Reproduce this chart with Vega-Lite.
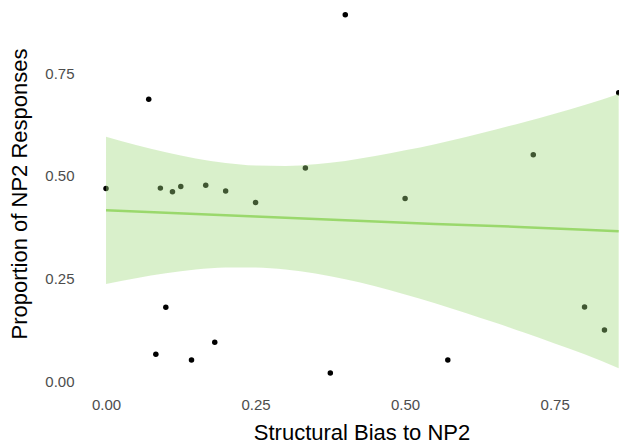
{
  "$schema": "https://vega.github.io/schema/vega-lite/v6.json",
  "width": 539,
  "height": 391,
  "autosize": {"type": "none"},
  "padding": {"left": 80, "top": 0, "right": 0, "bottom": 53},
  "background": "white",
  "config": {
    "view": {"stroke": null},
    "font": "Liberation Sans",
    "axis": {
      "grid": false,
      "domain": false,
      "ticks": false,
      "tickSize": 0,
      "labelFont": "Liberation Sans",
      "labelFontSize": 15,
      "labelColor": "#4d4d4d",
      "titleFont": "Liberation Sans",
      "titleFontSize": 22,
      "titleFontWeight": "normal",
      "titleColor": "black"
    }
  },
  "datasets": {
    "points": [
      {"bias": 0, "proportion": 0.469},
      {"bias": 0.0714, "proportion": 0.686},
      {"bias": 0.0833, "proportion": 0.066},
      {"bias": 0.0909, "proportion": 0.47},
      {"bias": 0.1, "proportion": 0.18},
      {"bias": 0.1111, "proportion": 0.461},
      {"bias": 0.125, "proportion": 0.474},
      {"bias": 0.1429, "proportion": 0.052},
      {"bias": 0.1667, "proportion": 0.477},
      {"bias": 0.1818, "proportion": 0.095},
      {"bias": 0.2, "proportion": 0.463},
      {"bias": 0.25, "proportion": 0.435},
      {"bias": 0.3333, "proportion": 0.519},
      {"bias": 0.375, "proportion": 0.02},
      {"bias": 0.4, "proportion": 0.892},
      {"bias": 0.5, "proportion": 0.445},
      {"bias": 0.5714, "proportion": 0.052},
      {"bias": 0.7143, "proportion": 0.551},
      {"bias": 0.8, "proportion": 0.181},
      {"bias": 0.8333, "proportion": 0.125},
      {"bias": 0.8571, "proportion": 0.702}
    ],
    "fit": [
      {"bias": 0, "fit": 0.416, "lo": 0.237, "hi": 0.595},
      {"bias": 0.05, "fit": 0.413, "lo": 0.251, "hi": 0.575},
      {"bias": 0.1, "fit": 0.41, "lo": 0.263, "hi": 0.557},
      {"bias": 0.15, "fit": 0.407, "lo": 0.272, "hi": 0.542},
      {"bias": 0.2, "fit": 0.404, "lo": 0.277, "hi": 0.531},
      {"bias": 0.25, "fit": 0.401, "lo": 0.277, "hi": 0.525},
      {"bias": 0.3, "fit": 0.398, "lo": 0.272, "hi": 0.524},
      {"bias": 0.35, "fit": 0.395, "lo": 0.262, "hi": 0.528},
      {"bias": 0.4, "fit": 0.392, "lo": 0.248, "hi": 0.536},
      {"bias": 0.45, "fit": 0.389, "lo": 0.231, "hi": 0.548},
      {"bias": 0.5, "fit": 0.386, "lo": 0.211, "hi": 0.562},
      {"bias": 0.55, "fit": 0.383, "lo": 0.19, "hi": 0.577},
      {"bias": 0.6, "fit": 0.38, "lo": 0.167, "hi": 0.594},
      {"bias": 0.65, "fit": 0.378, "lo": 0.143, "hi": 0.612},
      {"bias": 0.7, "fit": 0.375, "lo": 0.118, "hi": 0.631},
      {"bias": 0.75, "fit": 0.372, "lo": 0.092, "hi": 0.651},
      {"bias": 0.8, "fit": 0.369, "lo": 0.066, "hi": 0.672},
      {"bias": 0.8571, "fit": 0.365, "lo": 0.032, "hi": 0.699}
    ]
  },
  "encoding": {
    "x": {
      "field": "bias",
      "type": "quantitative",
      "scale": {"domain": [-0.0435, 0.8576], "nice": false, "zero": false},
      "axis": {
        "title": "Structural Bias to NP2",
        "values": [0, 0.25, 0.5, 0.75],
        "format": ".2f",
        "labelPadding": 6,
        "titleX": 281.5,
        "titleY": 48,
        "titleBaseline": "alphabetic",
        "titleAlign": "center",
        "titleAnchor": null
      }
    }
  },
  "layer": [
    {
      "data": {"name": "points"},
      "mark": {"type": "circle", "size": 30, "color": "black", "opacity": 1, "clip": true},
      "encoding": {
        "y": {
          "field": "proportion",
          "type": "quantitative",
          "title": "Proportion of NP2 Responses",
          "scale": {"domain": [-0.0236, 0.9277], "nice": false, "zero": false},
          "axis": {
            "values": [0, 0.25, 0.5, 0.75],
            "format": ".2f",
            "labelPadding": 6,
            "titleX": -54,
            "titleY": 193.5,
            "titleBaseline": "alphabetic",
            "titleAlign": "center",
            "titleAngle": -90
          }
        }
      }
    },
    {
      "data": {"name": "fit"},
      "mark": {"type": "area", "color": "#a0da7d", "opacity": 0.4, "interpolate": "monotone", "clip": true},
      "encoding": {
        "y": {"field": "lo", "type": "quantitative", "title": "Proportion of NP2 Responses"},
        "y2": {"field": "hi"}
      }
    },
    {
      "data": {"name": "fit"},
      "mark": {"type": "line", "color": "#9ad86c", "strokeWidth": 2.5, "clip": true},
      "encoding": {
        "y": {"field": "fit", "type": "quantitative", "title": "Proportion of NP2 Responses"}
      }
    }
  ]
}
